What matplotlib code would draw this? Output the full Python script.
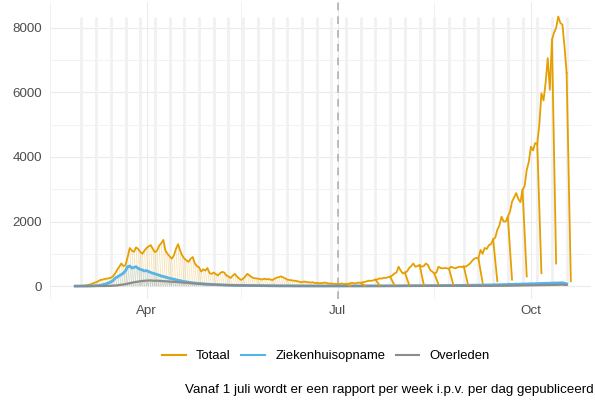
import numpy as np
import pandas as pd
import matplotlib
matplotlib.use('Agg')
import matplotlib.pyplot as plt
import matplotlib.dates as mdates
from matplotlib.lines import Line2D
from matplotlib.collections import LineCollection

plt.rcParams['font.family'] = ['Liberation Sans', 'DejaVu Sans']

# daily values from 2020-02-27 to 2020-10-18
totaal_feb = [1, 2, 5]
totaal_mar = [5, 10, 20, 30, 50, 70, 100, 120, 150, 190,
              200, 220, 230, 240, 260, 300, 390, 500, 600, 700,
              620, 650, 900, 1180, 1100, 1060, 1200, 1150, 1060, 1000, 1100]
totaal_apr = [1180, 1230, 1270, 1150, 1050, 1100, 1250, 1330, 1430, 1100,
              1000, 920, 850, 950, 1150, 1300, 1100, 950, 850, 800,
              750, 850, 900, 700, 620, 580, 450, 520, 480, 560]
totaal_may = [400, 380, 420, 370, 330, 400, 440, 420, 330, 300,
              250, 320, 380, 300, 240, 190, 230, 300, 380, 330,
              280, 250, 240, 230, 220, 200, 230, 210, 220, 200, 190]
totaal_jun = [230, 260, 280, 300, 270, 240, 200, 190, 180, 170,
              160, 150, 130, 120, 140, 130, 120, 110, 120, 100,
              100, 90, 90, 100, 110, 90, 80, 80, 70, 70]
totaal_jul = [60, 70, 80, 60, 70, 70, 90, 100, 80, 90,
              110, 100, 120, 130, 150, 170, 160, 180, 200, 210,
              240, 230, 260, 250, 280, 290, 330, 390, 420, 600, 480]
totaal_aug = [390, 420, 450, 560, 620, 700, 600, 620, 650, 600,
              620, 700, 650, 500, 450, 390, 420, 600, 560, 550,
              560, 550, 540, 600, 570, 550, 580, 600, 590, 610, 600]
totaal_sep = [650, 700, 780, 850, 870, 860, 1120, 1000, 1180, 1150,
              1270, 1300, 1450, 1500, 1740, 1880, 2150, 2000, 2000, 2150,
              2300, 2610, 2750, 2880, 2700, 2600, 2980, 3100, 3600, 3850]
totaal_oct = [4320, 4200, 4430, 4400, 5000, 5970, 5750, 6300, 7060, 6080,
              7630, 7850, 8000, 8350, 8150, 8100, 7400, 6600]

zkh_feb = [0, 0, 0]
zkh_mar = [0, 1, 2, 2, 4, 6, 9, 12, 18, 25,
           40, 55, 75, 100, 130, 170, 240, 280, 320, 360,
           400, 480, 600, 620, 560, 580, 600, 550, 520, 500, 470]
zkh_apr = [480, 450, 420, 400, 380, 360, 340, 310, 300, 280,
           260, 240, 230, 210, 200, 180, 170, 150, 140, 130,
           120, 110, 100, 95, 85, 80, 75, 70, 62, 58]
zkh_may = [55, 50, 46, 44, 40, 38, 35, 33, 30, 28,
           26, 25, 22, 21, 20, 18, 17, 16, 15, 14,
           13, 12, 12, 11, 10, 10, 9, 9, 8, 8, 7]
zkh_jun = [7, 7, 6, 6, 6, 5, 5, 5, 5, 4,
           4, 4, 4, 3, 3, 3, 3, 3, 3, 2,
           2, 2, 3, 2, 2, 2, 2, 2, 1, 2]
zkh_jul = [2, 1, 2, 2, 1, 2, 2, 2, 3, 2,
           3, 2, 3, 3, 4, 3, 4, 4, 5, 4,
           5, 6, 5, 6, 7, 6, 8, 7, 9, 8, 9]
zkh_aug = [10, 9, 11, 12, 10, 13, 12, 14, 13, 15,
           14, 16, 15, 17, 16, 15, 18, 17, 19, 18,
           20, 19, 21, 20, 22, 21, 23, 24, 22, 25, 24]
zkh_sep = [26, 25, 28, 27, 30, 29, 32, 31, 35, 34,
           38, 36, 40, 42, 40, 45, 44, 48, 47, 52,
           55, 53, 58, 60, 57, 62, 65, 63, 68, 70]
zkh_oct = [72, 75, 74, 78, 80, 83, 82, 86, 90, 88,
           92, 95, 98, 96, 100, 102, 90, 70]

overl_feb = [0, 0, 0]
overl_mar = [0, 0, 0, 0, 0, 1, 0, 1, 2, 1,
             2, 3, 4, 6, 8, 12, 16, 22, 30, 40,
             50, 62, 75, 90, 105, 118, 130, 140, 150, 158, 165]
overl_apr = [170, 172, 175, 168, 165, 170, 162, 158, 155, 150,
             145, 140, 135, 132, 128, 122, 118, 112, 108, 102,
             98, 92, 88, 82, 78, 72, 68, 62, 58, 55]
overl_may = [52, 48, 45, 43, 40, 38, 35, 33, 31, 29,
             27, 26, 24, 23, 21, 20, 19, 18, 17, 16,
             15, 14, 13, 13, 12, 11, 11, 10, 10, 9, 9]
overl_jun = [8, 8, 7, 7, 7, 6, 6, 6, 5, 5,
             5, 5, 4, 4, 4, 4, 4, 3, 3, 3,
             3, 3, 3, 2, 3, 2, 2, 2, 2, 2]
overl_jul = [2, 2, 1, 2, 2, 1, 2, 1, 1, 2,
             1, 1, 2, 1, 1, 1, 2, 1, 1, 2,
             1, 2, 1, 2, 2, 1, 2, 2, 2, 1, 2]
overl_aug = [2, 2, 3, 2, 2, 3, 2, 3, 3, 2,
             3, 3, 2, 3, 3, 2, 3, 4, 3, 3,
             4, 3, 4, 3, 4, 4, 3, 4, 4, 5, 4]
overl_sep = [4, 5, 5, 4, 6, 5, 6, 6, 7, 6,
             7, 8, 7, 8, 9, 9, 10, 11, 10, 12,
             13, 12, 14, 15, 16, 15, 18, 17, 19, 20]
overl_oct = [21, 22, 24, 23, 26, 27, 28, 30, 32, 31,
             34, 36, 38, 40, 42, 44, 40, 35]

totaal = np.array(totaal_feb + totaal_mar + totaal_apr + totaal_may + totaal_jun
                  + totaal_jul + totaal_aug + totaal_sep + totaal_oct, dtype=float)
zkh = np.array(zkh_feb + zkh_mar + zkh_apr + zkh_may + zkh_jun
               + zkh_jul + zkh_aug + zkh_sep + zkh_oct, dtype=float)
overl = np.array(overl_feb + overl_mar + overl_apr + overl_may + overl_jun
                 + overl_jul + overl_aug + overl_sep + overl_oct, dtype=float)
dates = pd.date_range('2020-02-27', periods=len(totaal), freq='D')

# weekly reports since 1 July: last reported day is still incomplete
weekly_reports = pd.date_range('2020-07-07', '2020-10-20', freq='7D')
report_tail = [10, 10, 20, 30, 40, 40, 50, 50, 60, 100, 150, 200, 300, 400, 700, 150]
week_marks = pd.date_range('2020-03-01', '2020-10-18', freq='7D')

series = [
    ('Totaal', totaal, '#E69F00', 1.3),
    ('Ziekenhuisopname', zkh, '#56B4E9', 2.0),
    ('Overleden', overl, '#8C8C8C', 1.6),
]

fig = plt.figure(figsize=(5.95, 4.05), dpi=100)
ax = fig.add_axes([49.5 / 595, 1 - 299 / 405, (591 - 49.5) / 595, 297 / 405])

xnum = mdates.date2num(dates)
ax.vlines(mdates.date2num(week_marks), 0, totaal.max(), color='#f1f1f1', lw=2.0, zorder=1)
ax.axvline(mdates.date2num(pd.Timestamp('2020-07-01')), color='#ababab', lw=1.1,
           ls=(0, (5, 4)), zorder=2)

jul1 = int(np.searchsorted(dates, pd.Timestamp('2020-07-01')))
for name, vals, col, lw in series:
    # daily reports until July: each report ends with an incomplete day
    segs = [[(xnum[i - 1], vals[i - 1]), (xnum[i], 0)] for i in range(5, jul1)]
    ax.add_collection(LineCollection(segs, colors=col, lw=0.6, alpha=0.3, zorder=3))

for name, vals, col, lw in series:
    ax.plot(xnum, vals, color=col, lw=lw, zorder=4, solid_joinstyle='round')

for r, tail in zip(weekly_reports, report_tail):
    i = int(np.searchsorted(dates, r - pd.Timedelta(days=2)))
    ax.plot([xnum[i], mdates.date2num(r)], [totaal[i], tail], color='#E69F00', lw=1.3, zorder=4)

ax.set_xlim(mdates.date2num(pd.Timestamp('2020-02-15')) - 0.2,
            mdates.date2num(pd.Timestamp('2020-10-29')) + 0.6)
ax.set_ylim(-400, 8800)
ax.set_yticks([0, 2000, 4000, 6000, 8000])
ax.set_yticks([1000, 3000, 5000, 7000], minor=True)
ax.set_xticks(mdates.date2num(pd.to_datetime(['2020-04-01', '2020-07-01', '2020-10-01'])))
ax.set_xticks(mdates.date2num(pd.to_datetime(['2020-02-15', '2020-05-16', '2020-08-16'])), minor=True)
ax.set_xticklabels(['Apr', 'Jul', 'Oct'])
ax.grid(which='major', color='#ebebeb', lw=0.8, zorder=0)
ax.grid(which='minor', color='#ebebeb', lw=0.45, zorder=0)
ax.set_axisbelow(True)
for s in ax.spines.values():
    s.set_visible(False)
ax.tick_params(which='both', length=0, labelsize=9.6, labelcolor='#4d4d4d')
ax.tick_params(axis='y', pad=5.5)
ax.tick_params(axis='x', pad=4.5)

handles = [Line2D([], [], color=col, lw=1.5) for _, _, col, _ in series]
fig.legend(handles, [s[0] for s in series], loc='center', ncol=3, frameon=False,
           bbox_to_anchor=(326 / 595, 1 - 356 / 405), fontsize=9.4,
           handlelength=1.8, handletextpad=0.8, columnspacing=0.8)

fig.text(594 / 595, 1 - 390 / 405,
         'Vanaf 1 juli wordt er een rapport per week i.p.v. per dag gepubliceerd',
         ha='right', va='center', fontsize=9.6, color='black')

fig.savefig('out.png', dpi=100)
